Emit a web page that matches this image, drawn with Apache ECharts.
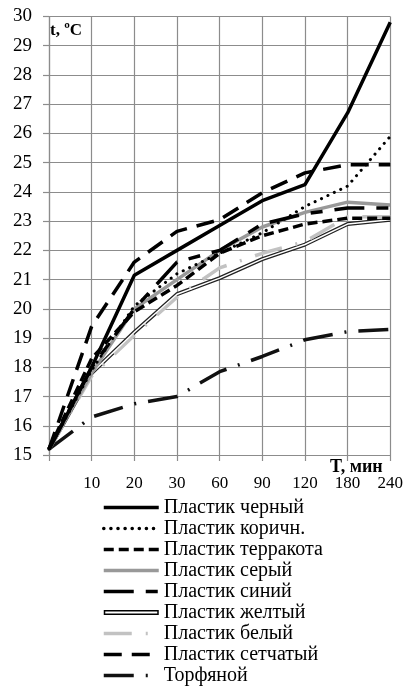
<!DOCTYPE html>
<html><head><meta charset="utf-8">
<script src="https://cdn.jsdelivr.net/npm/echarts@6/dist/echarts.min.js"></script>
<style>html,body{margin:0;padding:0;background:#fff}#c{width:406px;height:688px}</style>
</head><body><div id="c"></div>
<script>
// Time points (min); the 0 point is unlabeled on the axis
const times = ['0', '10', '20', '30', '60', '90', '120', '180', '240'];
const yMin = 15, yMax = 30, yStep = 1;

const sBlack    = [15.2, 18.0, 21.15, 22.0, 22.85, 23.7, 24.25, 26.7, 29.8];
const sBrown    = [15.2, 17.9, 20.1, 21.2, 21.9, 22.6, 23.5, 24.2, 25.9];
const sTerra    = [15.2, 18.3, 19.9, 20.8, 21.9, 22.5, 22.9, 23.1, 23.1];
const sGray     = [15.2, 17.8, 20.0, 21.0, 22.0, 22.8, 23.3, 23.65, 23.55];
const sBlue     = [15.2, 18.0, 20.0, 21.6, 22.0, 22.9, 23.25, 23.45, 23.45];
const sYellow   = [15.2, 17.8, 19.2, 20.5, 21.05, 21.7, 22.2, 22.9, 23.05];
const sWhite    = [15.2, 17.7, 19.1, 20.4, 21.4, 21.9, 22.3, 23.15, 23.15];
const sMesh     = [15.2, 19.4, 21.6, 22.65, 23.05, 23.97, 24.65, 24.93, 24.93];
const sPeat     = [15.2, 16.3, 16.75, 17.0, 17.85, 18.37, 18.94, 19.22, 19.3];

const names = ['Пластик черный', 'Пластик коричн.', 'Пластик терракота', 'Пластик серый',
  'Пластик синий', 'Пластик желтый', 'Пластик белый', 'Пластик сетчатый', 'Торфяной'];

const serif = '"Liberation Serif", "Times New Roman", serif';
const gridColor = '#8c8c8c';

function ln(name, data, color, width, type, z, cap) {
  return {
    name, type: 'line', data, symbol: 'none', z: z || 2,
    lineStyle: { color, width, type: type || 'solid', cap: cap || 'butt' },
    itemStyle: { color },
    emphasis: { disabled: true }, animation: false
  };
}

const chart = echarts.init(document.getElementById('c'), null, { renderer: 'canvas' });
chart.setOption({
  animation: false,
  grid: { left: 49, right: 15, top: 16.5, bottom: 233, containLabel: false },
  xAxis: {
    type: 'category', data: times, boundaryGap: false,
    axisLine: { lineStyle: { color: gridColor, width: 1.2 } },
    axisTick: { show: true, length: 6, alignWithLabel: true, lineStyle: { color: gridColor, width: 1.2 } },
    splitLine: { show: true, lineStyle: { color: gridColor, width: 1.2 } },
    axisLabel: { margin: 20, color: '#000', fontFamily: serif, fontSize: 17,
      formatter: v => (v === '0' ? '' : v) }
  },
  yAxis: {
    type: 'value', min: yMin, max: yMax, interval: yStep,
    axisLine: { show: true, lineStyle: { color: gridColor, width: 1.2 } },
    axisTick: { show: true, length: 6, lineStyle: { color: gridColor, width: 1.2 } },
    splitLine: { show: true, lineStyle: { color: gridColor, width: 1.2 } },
    axisLabel: { margin: 17, color: '#000', fontFamily: serif, fontSize: 19 }
  },
  legend: {
    orient: 'vertical', left: 102, top: 497, padding: 0,
    itemWidth: 55, itemHeight: 14, itemGap: 0,
    itemStyle: { opacity: 0 },
    lineStyle: { width: 3.5 },
    textStyle: { fontFamily: serif, fontSize: 20, color: '#000', lineHeight: 21 },
    data: names.map(n => n === 'Пластик желтый'
      ? { name: n, icon: 'path://M0,0H55V5H0Z M1.5,1.5V3.5H53.5V1.5Z', itemStyle: { color: '#000', opacity: 1 } }
      : { name: n })
  },
  graphic: [
    { type: 'text', left: 50, top: 22, style: { text: 't, ºC', font: 'bold 17px ' + serif, fill: '#000' } },
    { type: 'text', left: 330, top: 458, style: { text: 'T, мин', font: 'bold 18px ' + serif, fill: '#000' } }
  ],
  series: [
    ln(names[8], sPeat, '#111', 3.5, [30, 12, 2, 12], 3),
    ln(names[5], sYellow, '#222', 4, 'solid', 3),
    ln('_yellowInner', sYellow, '#fff', 1.5, 'solid', 4),
    ln(names[6], sWhite, '#c2c2c2', 3.5, [28, 14, 2, 14], 3),
    ln(names[3], sGray, '#999', 3.5, 'solid', 4),
    ln(names[2], sTerra, '#000', 3.5, [10, 5], 5),
    ln(names[4], sBlue, '#000', 3.5, [30, 12, 12, 12], 5),
    ln(names[1], sBrown, '#000', 3, [0.1, 7], 6, 'round'),
    ln(names[7], sMesh, '#000', 3.5, [18, 10], 6),
    ln(names[0], sBlack, '#000', 3.5, 'solid', 7)
  ]
});
</script>
</body></html>
